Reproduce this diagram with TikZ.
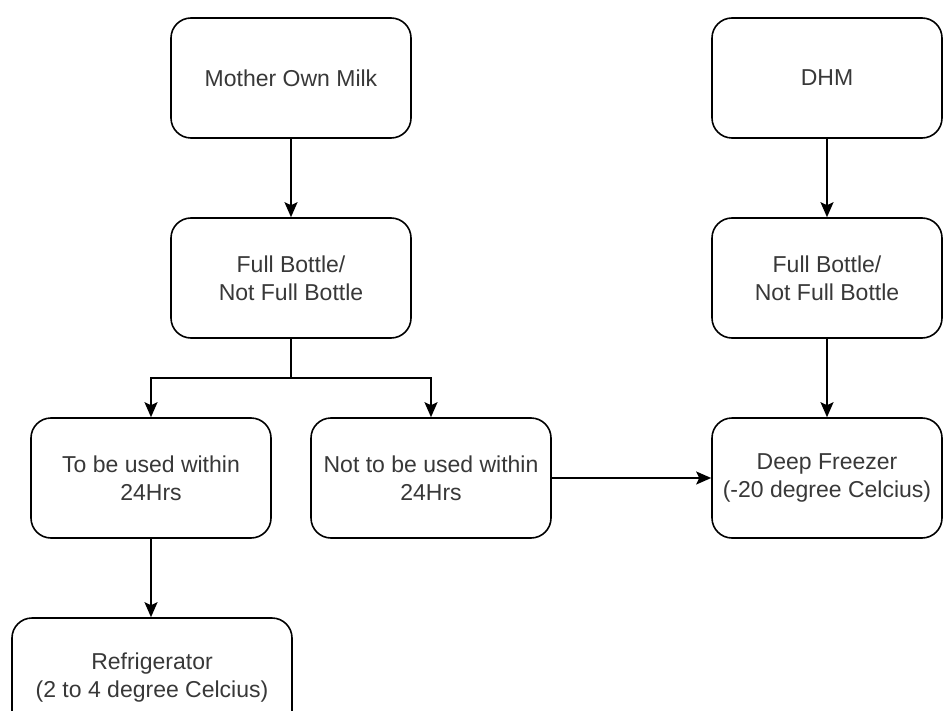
\documentclass[tikz,border=0pt]{standalone}
\usepackage{fontspec}
\setmainfont{Liberation Sans}
\usetikzlibrary{arrows.meta}
\definecolor{txt}{HTML}{383838}
\begin{document}
\begin{tikzpicture}[x=1pt,y=-1pt,
  box/.style={draw=black,line width=1.6pt,rounded corners=20pt,fill=white,
    minimum width=240pt,minimum height=120pt,align=center,inner sep=0pt,
    text=txt,font=\fontsize{23}{28}\selectfont},
  conn/.style={line width=1.6pt,-{Stealth[length=15pt,width=13pt,inset=3pt]}}]
\clip (0,0) rectangle (944,711);
\fill[white] (0,0) rectangle (944,711);
\node[box] (moml) at (291,78) {Mother Own Milk};
\node[box,minimum width=230pt] (dhm) at (827,78) {DHM};
\node[box] (fb1) at (291,278) {Full Bottle/\\Not Full Bottle};
\node[box,minimum width=230pt] (fb2) at (827,278) {Full Bottle/\\Not Full Bottle};
\node[box] (use) at (151,478) {To be used within\\24Hrs};
\node[box] (notuse) at (431,478) {Not to be used within\\24Hrs};
\node[box,minimum width=230pt] (deep) at (827,478) {Deep Freezer\\(-20 degree Celcius)};
\node[box,minimum width=280pt] (fridge) at (152,678) {Refrigerator\\(2 to 4 degree Celcius)};
\coordinate (split) at (291,378);
\draw[conn] (moml) -- (fb1);
\draw[conn] (dhm) -- (fb2);
\draw[conn] (fb2) -- (deep);
\draw[line width=1.6pt] (fb1.south) -- (split);
\draw[conn] (split) -| (use.north);
\draw[conn] (split) -| (notuse.north);
\draw[conn] (notuse) -- (deep);
\draw[conn] (use) -- (use |- fridge.north);
\end{tikzpicture}
\end{document}
